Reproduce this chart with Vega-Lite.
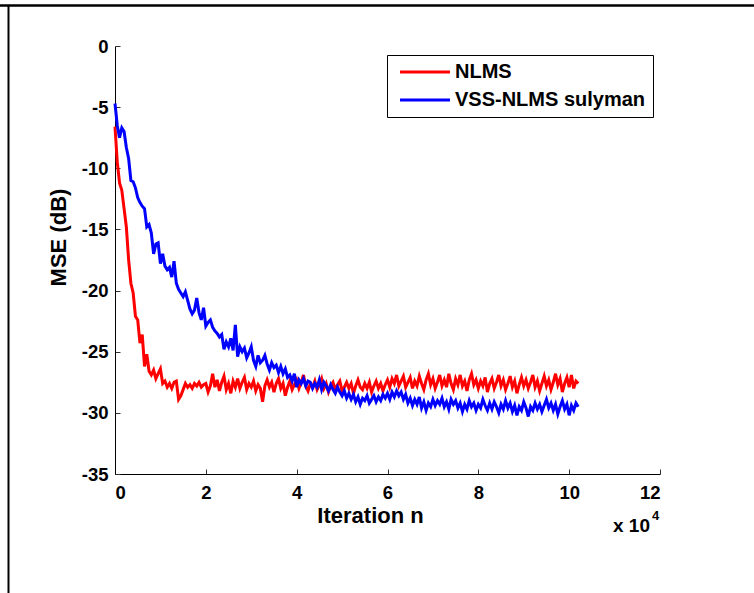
{
  "$schema": "https://vega.github.io/schema/vega-lite/v6.json",
  "width": 545,
  "height": 428,
  "autosize": {"type": "none"},
  "padding": {"left": 115, "top": 46, "right": 94, "bottom": 119},
  "background": "white",
  "config": {
    "view": {"stroke": null},
    "font": "Liberation Sans",
    "axis": {
      "labelFont": "Liberation Sans", "labelFontSize": 18.5, "labelFontWeight": "bold", "labelColor": "black",
      "titleFont": "Liberation Sans", "titleFontSize": 22, "titleFontWeight": "bold", "titleColor": "black",
      "domainColor": "black", "domainWidth": 1, "tickColor": "#333", "tickWidth": 1, "grid": false
    }
  },
  "layer": [
    {
      "data": {"values": [
        {"x":0.00,"NLMS":-6.6,"VSS-NLMS sulyman":-4.7},
        {"x":0.05,"NLMS":-9.5,"VSS-NLMS sulyman":-6.5},
        {"x":0.10,"NLMS":-11.2,"VSS-NLMS sulyman":-7.5},
        {"x":0.15,"NLMS":-11.8,"VSS-NLMS sulyman":-6.7},
        {"x":0.20,"NLMS":-13.3,"VSS-NLMS sulyman":-7.0},
        {"x":0.25,"NLMS":-14.8,"VSS-NLMS sulyman":-8.3},
        {"x":0.30,"NLMS":-17.5,"VSS-NLMS sulyman":-9.2},
        {"x":0.35,"NLMS":-19.4,"VSS-NLMS sulyman":-11.0},
        {"x":0.40,"NLMS":-20.2,"VSS-NLMS sulyman":-11.1},
        {"x":0.45,"NLMS":-22.1,"VSS-NLMS sulyman":-11.6},
        {"x":0.50,"NLMS":-22.4,"VSS-NLMS sulyman":-12.4},
        {"x":0.55,"NLMS":-24.3,"VSS-NLMS sulyman":-12.8},
        {"x":0.60,"NLMS":-23.6,"VSS-NLMS sulyman":-13.1},
        {"x":0.65,"NLMS":-26.2,"VSS-NLMS sulyman":-13.3},
        {"x":0.70,"NLMS":-25.2,"VSS-NLMS sulyman":-14.8},
        {"x":0.75,"NLMS":-26.6,"VSS-NLMS sulyman":-14.6},
        {"x":0.80,"NLMS":-26.9,"VSS-NLMS sulyman":-15.3},
        {"x":0.85,"NLMS":-26.5,"VSS-NLMS sulyman":-17.0},
        {"x":0.90,"NLMS":-27.2,"VSS-NLMS sulyman":-16.2},
        {"x":0.95,"NLMS":-26.8,"VSS-NLMS sulyman":-16.1},
        {"x":1.00,"NLMS":-26.4,"VSS-NLMS sulyman":-17.8},
        {"x":1.05,"NLMS":-27.6,"VSS-NLMS sulyman":-17.0},
        {"x":1.10,"NLMS":-27.4,"VSS-NLMS sulyman":-18.0},
        {"x":1.15,"NLMS":-27.9,"VSS-NLMS sulyman":-18.3},
        {"x":1.20,"NLMS":-27.6,"VSS-NLMS sulyman":-18.1},
        {"x":1.25,"NLMS":-28.0,"VSS-NLMS sulyman":-18.9},
        {"x":1.30,"NLMS":-27.5,"VSS-NLMS sulyman":-17.6},
        {"x":1.35,"NLMS":-27.4,"VSS-NLMS sulyman":-19.4},
        {"x":1.40,"NLMS":-28.9,"VSS-NLMS sulyman":-19.9},
        {"x":1.45,"NLMS":-28.6,"VSS-NLMS sulyman":-20.2},
        {"x":1.50,"NLMS":-28.1,"VSS-NLMS sulyman":-20.5},
        {"x":1.55,"NLMS":-27.6,"VSS-NLMS sulyman":-20.1},
        {"x":1.60,"NLMS":-27.9,"VSS-NLMS sulyman":-20.8},
        {"x":1.65,"NLMS":-27.7,"VSS-NLMS sulyman":-21.5},
        {"x":1.70,"NLMS":-28.0,"VSS-NLMS sulyman":-21.9},
        {"x":1.75,"NLMS":-27.6,"VSS-NLMS sulyman":-21.6},
        {"x":1.80,"NLMS":-27.8,"VSS-NLMS sulyman":-20.6},
        {"x":1.85,"NLMS":-27.5,"VSS-NLMS sulyman":-21.8},
        {"x":1.90,"NLMS":-27.9,"VSS-NLMS sulyman":-22.4},
        {"x":1.95,"NLMS":-27.7,"VSS-NLMS sulyman":-21.4},
        {"x":2.00,"NLMS":-27.6,"VSS-NLMS sulyman":-22.9},
        {"x":2.05,"NLMS":-28.3,"VSS-NLMS sulyman":-22.6},
        {"x":2.10,"NLMS":-27.8,"VSS-NLMS sulyman":-22.4},
        {"x":2.15,"NLMS":-26.8,"VSS-NLMS sulyman":-23.0},
        {"x":2.20,"NLMS":-27.9,"VSS-NLMS sulyman":-23.3},
        {"x":2.25,"NLMS":-27.3,"VSS-NLMS sulyman":-23.5},
        {"x":2.30,"NLMS":-28.2,"VSS-NLMS sulyman":-23.8},
        {"x":2.35,"NLMS":-27.5,"VSS-NLMS sulyman":-23.6},
        {"x":2.40,"NLMS":-27.0,"VSS-NLMS sulyman":-24.8},
        {"x":2.45,"NLMS":-28.1,"VSS-NLMS sulyman":-24.2},
        {"x":2.50,"NLMS":-27.6,"VSS-NLMS sulyman":-24.6},
        {"x":2.55,"NLMS":-28.4,"VSS-NLMS sulyman":-23.9},
        {"x":2.60,"NLMS":-27.4,"VSS-NLMS sulyman":-24.9},
        {"x":2.65,"NLMS":-27.9,"VSS-NLMS sulyman":-22.8},
        {"x":2.70,"NLMS":-27.2,"VSS-NLMS sulyman":-25.4},
        {"x":2.75,"NLMS":-28.0,"VSS-NLMS sulyman":-24.6},
        {"x":2.80,"NLMS":-27.5,"VSS-NLMS sulyman":-25.0},
        {"x":2.85,"NLMS":-27.1,"VSS-NLMS sulyman":-24.7},
        {"x":2.90,"NLMS":-28.1,"VSS-NLMS sulyman":-25.5},
        {"x":2.95,"NLMS":-27.6,"VSS-NLMS sulyman":-25.1},
        {"x":3.00,"NLMS":-27.9,"VSS-NLMS sulyman":-24.6},
        {"x":3.05,"NLMS":-27.4,"VSS-NLMS sulyman":-25.7},
        {"x":3.10,"NLMS":-28.2,"VSS-NLMS sulyman":-26.2},
        {"x":3.15,"NLMS":-27.7,"VSS-NLMS sulyman":-25.3},
        {"x":3.20,"NLMS":-28.0,"VSS-NLMS sulyman":-25.9},
        {"x":3.25,"NLMS":-29.1,"VSS-NLMS sulyman":-25.7},
        {"x":3.30,"NLMS":-27.8,"VSS-NLMS sulyman":-25.3},
        {"x":3.35,"NLMS":-27.3,"VSS-NLMS sulyman":-26.0},
        {"x":3.40,"NLMS":-27.9,"VSS-NLMS sulyman":-26.5},
        {"x":3.45,"NLMS":-27.5,"VSS-NLMS sulyman":-25.9},
        {"x":3.50,"NLMS":-28.3,"VSS-NLMS sulyman":-26.3},
        {"x":3.55,"NLMS":-27.6,"VSS-NLMS sulyman":-26.1},
        {"x":3.60,"NLMS":-27.2,"VSS-NLMS sulyman":-26.7},
        {"x":3.65,"NLMS":-28.0,"VSS-NLMS sulyman":-26.2},
        {"x":3.70,"NLMS":-27.6,"VSS-NLMS sulyman":-26.8},
        {"x":3.75,"NLMS":-28.6,"VSS-NLMS sulyman":-26.4},
        {"x":3.80,"NLMS":-27.9,"VSS-NLMS sulyman":-27.1},
        {"x":3.85,"NLMS":-27.4,"VSS-NLMS sulyman":-26.9},
        {"x":3.90,"NLMS":-28.1,"VSS-NLMS sulyman":-27.4},
        {"x":3.95,"NLMS":-27.7,"VSS-NLMS sulyman":-26.8},
        {"x":4.00,"NLMS":-27.3,"VSS-NLMS sulyman":-27.9},
        {"x":4.05,"NLMS":-28.0,"VSS-NLMS sulyman":-27.3},
        {"x":4.10,"NLMS":-27.5,"VSS-NLMS sulyman":-27.6},
        {"x":4.15,"NLMS":-26.9,"VSS-NLMS sulyman":-27.2},
        {"x":4.20,"NLMS":-27.8,"VSS-NLMS sulyman":-27.8},
        {"x":4.25,"NLMS":-28.2,"VSS-NLMS sulyman":-27.4},
        {"x":4.30,"NLMS":-27.6,"VSS-NLMS sulyman":-27.5},
        {"x":4.35,"NLMS":-27.9,"VSS-NLMS sulyman":-28.0},
        {"x":4.40,"NLMS":-27.4,"VSS-NLMS sulyman":-27.6},
        {"x":4.45,"NLMS":-28.1,"VSS-NLMS sulyman":-27.9},
        {"x":4.50,"NLMS":-27.7,"VSS-NLMS sulyman":-27.3},
        {"x":4.55,"NLMS":-27.2,"VSS-NLMS sulyman":-28.1},
        {"x":4.60,"NLMS":-28.0,"VSS-NLMS sulyman":-27.5},
        {"x":4.65,"NLMS":-27.6,"VSS-NLMS sulyman":-27.8},
        {"x":4.70,"NLMS":-28.3,"VSS-NLMS sulyman":-28.2},
        {"x":4.75,"NLMS":-27.8,"VSS-NLMS sulyman":-27.7},
        {"x":4.80,"NLMS":-27.5,"VSS-NLMS sulyman":-28.1},
        {"x":4.85,"NLMS":-28.1,"VSS-NLMS sulyman":-28.4},
        {"x":4.90,"NLMS":-27.7,"VSS-NLMS sulyman":-27.9},
        {"x":4.95,"NLMS":-27.4,"VSS-NLMS sulyman":-28.3},
        {"x":5.00,"NLMS":-28.2,"VSS-NLMS sulyman":-28.6},
        {"x":5.05,"NLMS":-27.9,"VSS-NLMS sulyman":-28.2},
        {"x":5.10,"NLMS":-27.5,"VSS-NLMS sulyman":-28.8},
        {"x":5.15,"NLMS":-28.0,"VSS-NLMS sulyman":-28.4},
        {"x":5.20,"NLMS":-27.6,"VSS-NLMS sulyman":-28.9},
        {"x":5.25,"NLMS":-28.4,"VSS-NLMS sulyman":-28.5},
        {"x":5.30,"NLMS":-27.8,"VSS-NLMS sulyman":-29.1},
        {"x":5.35,"NLMS":-27.3,"VSS-NLMS sulyman":-28.7},
        {"x":5.40,"NLMS":-27.9,"VSS-NLMS sulyman":-29.3},
        {"x":5.45,"NLMS":-28.1,"VSS-NLMS sulyman":-28.8},
        {"x":5.50,"NLMS":-27.6,"VSS-NLMS sulyman":-29.0},
        {"x":5.55,"NLMS":-28.0,"VSS-NLMS sulyman":-28.6},
        {"x":5.60,"NLMS":-27.5,"VSS-NLMS sulyman":-29.2},
        {"x":5.65,"NLMS":-28.3,"VSS-NLMS sulyman":-28.9},
        {"x":5.70,"NLMS":-27.8,"VSS-NLMS sulyman":-28.6},
        {"x":5.75,"NLMS":-27.4,"VSS-NLMS sulyman":-29.1},
        {"x":5.80,"NLMS":-28.0,"VSS-NLMS sulyman":-28.7},
        {"x":5.85,"NLMS":-27.6,"VSS-NLMS sulyman":-29.0},
        {"x":5.90,"NLMS":-28.2,"VSS-NLMS sulyman":-28.5},
        {"x":5.95,"NLMS":-27.7,"VSS-NLMS sulyman":-28.8},
        {"x":6.00,"NLMS":-27.3,"VSS-NLMS sulyman":-28.4},
        {"x":6.05,"NLMS":-27.9,"VSS-NLMS sulyman":-28.9},
        {"x":6.10,"NLMS":-27.2,"VSS-NLMS sulyman":-28.3},
        {"x":6.15,"NLMS":-27.6,"VSS-NLMS sulyman":-28.7},
        {"x":6.20,"NLMS":-26.9,"VSS-NLMS sulyman":-28.2},
        {"x":6.25,"NLMS":-27.8,"VSS-NLMS sulyman":-28.6},
        {"x":6.30,"NLMS":-27.4,"VSS-NLMS sulyman":-28.3},
        {"x":6.35,"NLMS":-27.0,"VSS-NLMS sulyman":-28.9},
        {"x":6.40,"NLMS":-27.9,"VSS-NLMS sulyman":-28.5},
        {"x":6.45,"NLMS":-27.5,"VSS-NLMS sulyman":-29.2},
        {"x":6.50,"NLMS":-27.1,"VSS-NLMS sulyman":-28.8},
        {"x":6.55,"NLMS":-28.0,"VSS-NLMS sulyman":-29.4},
        {"x":6.60,"NLMS":-27.4,"VSS-NLMS sulyman":-28.9},
        {"x":6.65,"NLMS":-27.8,"VSS-NLMS sulyman":-29.3},
        {"x":6.70,"NLMS":-27.0,"VSS-NLMS sulyman":-28.7},
        {"x":6.75,"NLMS":-27.6,"VSS-NLMS sulyman":-29.6},
        {"x":6.80,"NLMS":-28.1,"VSS-NLMS sulyman":-29.1},
        {"x":6.85,"NLMS":-27.3,"VSS-NLMS sulyman":-29.8},
        {"x":6.90,"NLMS":-26.8,"VSS-NLMS sulyman":-29.2},
        {"x":6.95,"NLMS":-27.7,"VSS-NLMS sulyman":-29.5},
        {"x":7.00,"NLMS":-27.2,"VSS-NLMS sulyman":-28.9},
        {"x":7.05,"NLMS":-28.0,"VSS-NLMS sulyman":-29.4},
        {"x":7.10,"NLMS":-27.5,"VSS-NLMS sulyman":-29.0},
        {"x":7.15,"NLMS":-26.9,"VSS-NLMS sulyman":-29.3},
        {"x":7.20,"NLMS":-27.8,"VSS-NLMS sulyman":-28.8},
        {"x":7.25,"NLMS":-27.3,"VSS-NLMS sulyman":-29.5},
        {"x":7.30,"NLMS":-27.9,"VSS-NLMS sulyman":-29.1},
        {"x":7.35,"NLMS":-26.8,"VSS-NLMS sulyman":-29.7},
        {"x":7.40,"NLMS":-27.6,"VSS-NLMS sulyman":-28.9},
        {"x":7.45,"NLMS":-28.1,"VSS-NLMS sulyman":-29.3},
        {"x":7.50,"NLMS":-27.2,"VSS-NLMS sulyman":-29.0},
        {"x":7.55,"NLMS":-27.7,"VSS-NLMS sulyman":-29.6},
        {"x":7.60,"NLMS":-26.9,"VSS-NLMS sulyman":-29.2},
        {"x":7.65,"NLMS":-27.8,"VSS-NLMS sulyman":-29.9},
        {"x":7.70,"NLMS":-27.4,"VSS-NLMS sulyman":-29.3},
        {"x":7.75,"NLMS":-28.2,"VSS-NLMS sulyman":-29.7},
        {"x":7.80,"NLMS":-27.3,"VSS-NLMS sulyman":-29.0},
        {"x":7.85,"NLMS":-26.8,"VSS-NLMS sulyman":-29.5},
        {"x":7.90,"NLMS":-27.7,"VSS-NLMS sulyman":-29.2},
        {"x":7.95,"NLMS":-27.3,"VSS-NLMS sulyman":-29.8},
        {"x":8.00,"NLMS":-28.0,"VSS-NLMS sulyman":-29.3},
        {"x":8.05,"NLMS":-27.4,"VSS-NLMS sulyman":-29.6},
        {"x":8.10,"NLMS":-27.8,"VSS-NLMS sulyman":-28.9},
        {"x":8.15,"NLMS":-27.1,"VSS-NLMS sulyman":-29.4},
        {"x":8.20,"NLMS":-28.3,"VSS-NLMS sulyman":-29.8},
        {"x":8.25,"NLMS":-27.6,"VSS-NLMS sulyman":-29.2},
        {"x":8.30,"NLMS":-27.2,"VSS-NLMS sulyman":-29.7},
        {"x":8.35,"NLMS":-28.0,"VSS-NLMS sulyman":-29.1},
        {"x":8.40,"NLMS":-27.5,"VSS-NLMS sulyman":-29.5},
        {"x":8.45,"NLMS":-26.9,"VSS-NLMS sulyman":-30.0},
        {"x":8.50,"NLMS":-27.8,"VSS-NLMS sulyman":-29.3},
        {"x":8.55,"NLMS":-27.3,"VSS-NLMS sulyman":-29.7},
        {"x":8.60,"NLMS":-28.1,"VSS-NLMS sulyman":-29.0},
        {"x":8.65,"NLMS":-27.6,"VSS-NLMS sulyman":-29.6},
        {"x":8.70,"NLMS":-27.0,"VSS-NLMS sulyman":-29.2},
        {"x":8.75,"NLMS":-27.9,"VSS-NLMS sulyman":-29.9},
        {"x":8.80,"NLMS":-27.4,"VSS-NLMS sulyman":-29.4},
        {"x":8.85,"NLMS":-28.4,"VSS-NLMS sulyman":-30.2},
        {"x":8.90,"NLMS":-27.7,"VSS-NLMS sulyman":-29.5},
        {"x":8.95,"NLMS":-27.1,"VSS-NLMS sulyman":-29.8},
        {"x":9.00,"NLMS":-27.8,"VSS-NLMS sulyman":-29.1},
        {"x":9.05,"NLMS":-27.3,"VSS-NLMS sulyman":-29.6},
        {"x":9.10,"NLMS":-28.0,"VSS-NLMS sulyman":-30.3},
        {"x":9.15,"NLMS":-27.5,"VSS-NLMS sulyman":-29.5},
        {"x":9.20,"NLMS":-26.9,"VSS-NLMS sulyman":-29.8},
        {"x":9.25,"NLMS":-27.9,"VSS-NLMS sulyman":-29.2},
        {"x":9.30,"NLMS":-27.4,"VSS-NLMS sulyman":-29.7},
        {"x":9.35,"NLMS":-28.2,"VSS-NLMS sulyman":-29.3},
        {"x":9.40,"NLMS":-27.6,"VSS-NLMS sulyman":-29.9},
        {"x":9.45,"NLMS":-27.0,"VSS-NLMS sulyman":-29.4},
        {"x":9.50,"NLMS":-27.8,"VSS-NLMS sulyman":-28.9},
        {"x":9.55,"NLMS":-27.3,"VSS-NLMS sulyman":-29.6},
        {"x":9.60,"NLMS":-28.1,"VSS-NLMS sulyman":-29.2},
        {"x":9.65,"NLMS":-27.5,"VSS-NLMS sulyman":-29.8},
        {"x":9.70,"NLMS":-26.8,"VSS-NLMS sulyman":-29.3},
        {"x":9.75,"NLMS":-27.7,"VSS-NLMS sulyman":-30.1},
        {"x":9.80,"NLMS":-27.2,"VSS-NLMS sulyman":-29.5},
        {"x":9.85,"NLMS":-28.3,"VSS-NLMS sulyman":-29.0},
        {"x":9.90,"NLMS":-27.6,"VSS-NLMS sulyman":-29.7},
        {"x":9.95,"NLMS":-27.1,"VSS-NLMS sulyman":-29.3},
        {"x":10.00,"NLMS":-27.9,"VSS-NLMS sulyman":-30.2},
        {"x":10.05,"NLMS":-26.9,"VSS-NLMS sulyman":-29.4},
        {"x":10.10,"NLMS":-28.0,"VSS-NLMS sulyman":-29.8},
        {"x":10.15,"NLMS":-27.4,"VSS-NLMS sulyman":-29.2},
        {"x":10.20,"NLMS":-27.6,"VSS-NLMS sulyman":-29.5}
      ]},
      "transform": [{"fold": ["NLMS", "VSS-NLMS sulyman"], "as": ["series", "mse"]}],
      "mark": {"type": "line", "strokeWidth": 3},
      "encoding": {
        "x": {
          "field": "x", "type": "quantitative",
          "scale": {"domain": [0, 12], "nice": false, "zero": false},
          "axis": {
            "values": [0, 2, 4, 6, 8, 10, 12], "tickSize": -5, "labelPadding": 14,
            "labelExpr": "'' + datum.value",
            "title": "Iteration n", "titleX": 255, "titleY": 48, "titleBaseline": "alphabetic", "titleAlign": "center"
          }
        },
        "y": {
          "field": "mse", "type": "quantitative",
          "scale": {"domain": [-35, 0], "nice": false, "zero": false},
          "axis": {
            "values": [0, -5, -10, -15, -20, -25, -30, -35], "tickSize": -5, "labelPadding": 12,
            "labelExpr": "'' + datum.value",
            "title": "MSE (dB)", "titleX": -50, "titleY": 191, "titleBaseline": "alphabetic", "titleAlign": "center", "titleAngle": -90
          }
        },
        "color": {
          "field": "series", "type": "nominal",
          "scale": {"domain": ["NLMS", "VSS-NLMS sulyman"], "range": ["#ff0000", "#0000ff"]},
          "legend": {
            "title": null, "orient": "none", "legendX": 272, "legendY": 9,
            "strokeColor": "black", "fillColor": "white", "padding": 7, "rowPadding": 8,
            "symbolType": "M-5,0H5", "symbolSize": 100, "symbolStrokeWidth": 3, "symbolOffset": 21, "labelOffset": 20,
            "labelLimit": 400,
            "labelFont": "Liberation Sans", "labelFontSize": 20, "labelFontWeight": "bold", "labelColor": "black"
          }
        }
      }
    },
    {
      "data": {"values": [{}]},
      "mark": {"type": "rule", "clip": false, "color": "black", "strokeWidth": 2.5},
      "encoding": {"x": {"datum": -2.532}, "x2": {"datum": 14.07}, "y": {"datum": 3.31}}
    },
    {
      "data": {"values": [{}]},
      "mark": {"type": "rule", "clip": false, "color": "black", "strokeWidth": 2},
      "encoding": {"x": {"datum": -2.345}, "y": {"datum": 3.31}, "y2": {"datum": -44.73}}
    },
    {
      "data": {"values": [{"t": "x 10"}]},
      "mark": {"type": "text", "clip": false, "align": "left", "baseline": "alphabetic", "font": "Liberation Sans", "fontSize": 19, "fontWeight": "bold", "color": "black"},
      "encoding": {"x": {"datum": 10.965}, "y": {"datum": -39.74}, "text": {"field": "t"}}
    },
    {
      "data": {"values": [{"t": "4"}]},
      "mark": {"type": "text", "clip": false, "align": "left", "baseline": "alphabetic", "font": "Liberation Sans", "fontSize": 13, "fontWeight": "bold", "color": "black"},
      "encoding": {"x": {"datum": 11.824}, "y": {"datum": -38.76}, "text": {"field": "t"}}
    }
  ]
}
